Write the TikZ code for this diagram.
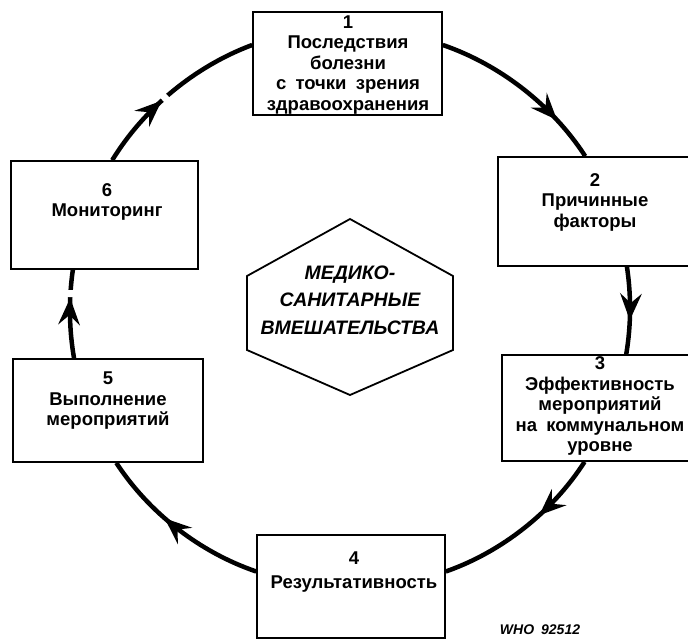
\documentclass[tikz,border=0pt]{standalone}
\usepackage{fontspec}
\setmainfont{Liberation Sans}
\usetikzlibrary{arrows.meta,decorations.markings}

\begin{document}
\begin{tikzpicture}[x=1pt,y=1pt,
    box/.style={draw,line width=1.6pt,fill=white,inner sep=0pt},
    txt/.style={align=center,inner sep=0pt,font=\bfseries\fontsize{18.5}{20.5}\selectfont},
    link/.style={line width=4.5pt,bend left=#1,looseness=.86},
    tip/.style={postaction={decorate,decoration={markings,
        mark=at position #1 with {\arrow{Stealth[length=27pt,width=22pt,inset=10pt,line width=0pt]}}}}},
    gaptip/.style={postaction={decorate,decoration={markings,
        mark=at position #1 with {\fill[white] (1,-4) rectangle (8,4);
          \arrow{Stealth[length=27pt,width=22pt,inset=10pt,line width=0pt]}}}}}]
            \useasboundingbox (0,0) rectangle (688,-641);
            \clip (0,0) rectangle (688,-641);
            \fill[white] (0,0) rectangle (688,-641);
            % the six stages
            \node[box,minimum width=189pt,minimum height=103pt] (b1) at (347.5,-63.5) {};
            \node[box,minimum width=194pt,minimum height=109pt] (b2) at (595,-211.5) {};
            \node[box,minimum width=196pt,minimum height=106pt] (b3) at (600,-408) {};
            \node[box,minimum width=188pt,minimum height=103pt] (b4) at (351,-586.5) {};
            \node[box,minimum width=190pt,minimum height=103pt] (b5) at (108,-410.5) {};
            \node[box,minimum width=187pt,minimum height=108pt] (b6) at (104.5,-215) {};
            \node[txt] (t1) at (348,-65) {1\\Последствия\\болезни\\с\enspace точки\enspace зрения\\здравоохранения};
            \node[txt] (t2) at (595,-202) {2\\Причинные\\факторы};
            \node[txt] (t3) at (600,-406) {3\\Эффективность\\мероприятий\\на\enspace коммунальном\\уровне};
            \node[txt] (t4) at (354,-572) {4\\[4pt]Результативность};
            \node[txt] (t5) at (108,-401) {5\\Выполнение\\мероприятий};
            \node[txt] (t6) at (107,-202) {6\\Мониторинг};
            % centre
            \draw[line width=1.8pt] (350,-219) -- (453,-276) -- (453,-350) -- (350,-395) -- (247,-350) -- (247,-276) -- cycle;
            \node[align=center,inner sep=0pt,font=\bfseries\itshape\fontsize{19.5}{27.5}\selectfont] (hub) at (350,-300) {МЕДИКО-\\САНИТАРНЫЕ\\ВМЕШАТЕЛЬСТВА};
            % cycle
            \draw[link=19,tip=.75] (b1.11) to (b2.100);
            \draw[link=9,tip=.61] (b2.300) to (b3.64);
            \draw[link=19,tip=.39] (b3.254) to (b4.9);
            \draw[link=19,tip=.59] (b4.171) to (b5.279);
            \draw[link=9,gaptip=.68] (b5.123) to (b6.240);
            \draw[link=19,gaptip=.42] (b6.82) to (b1.169);
            \node[font=\bfseries\itshape\fontsize{14}{14}\selectfont] (who) at (540,-630) {WHO\enspace 92512};
        \end{tikzpicture}
\end{document}
